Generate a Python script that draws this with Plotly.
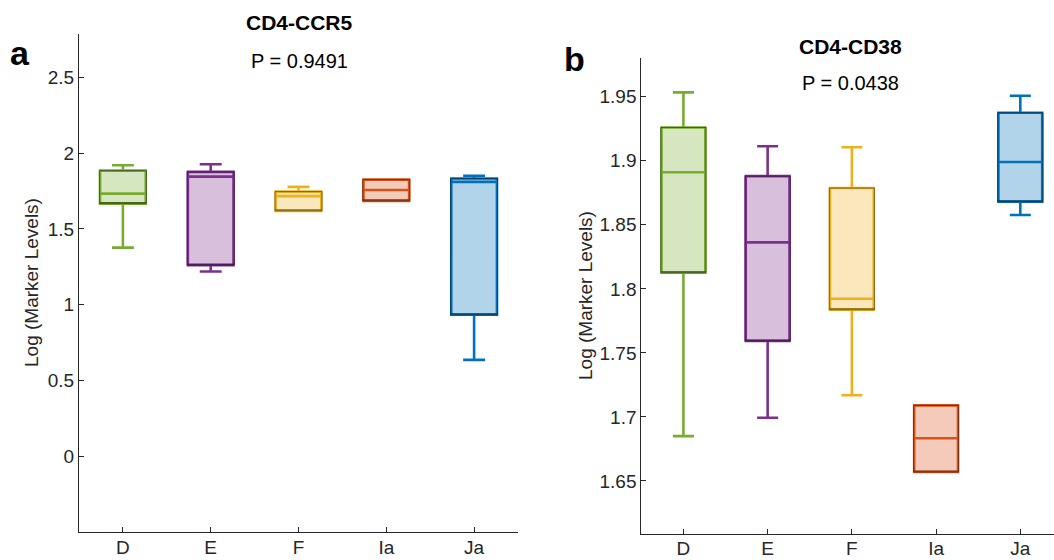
import plotly.graph_objects as go

categories = ["D", "E", "F", "Ia", "Ja"]
colors = ["#77AC30", "#7E2F8E", "#EDB120", "#D95319", "#0072BD"]

# Panel a: CD4-CCR5
a_lower = [1.377, 1.219, 1.619, 1.685, 0.637]
a_q1 = [1.667, 1.261, 1.619, 1.685, 0.934]
a_median = [1.733, 1.845, 1.716, 1.757, 1.810]
a_q3 = [1.884, 1.876, 1.746, 1.825, 1.832]
a_upper = [1.920, 1.926, 1.777, 1.825, 1.851]
a_ticks = [0, 0.5, 1, 1.5, 2, 2.5]
a_ticktext = ["0", "0.5", "1", "1.5", "2", "2.5"]

# Panel b: CD4-CD38
b_lower = [1.685, 1.6994, 1.7169, 1.6570, 1.8577]
b_q1 = [1.8126, 1.7593, 1.7837, 1.6570, 1.868]
b_median = [1.891, 1.8363, 1.7923, 1.6833, 1.899]
b_q3 = [1.926, 1.888, 1.8787, 1.709, 1.9375]
b_upper = [1.9534, 1.9113, 1.9105, 1.709, 1.9508]
b_ticks = [1.65, 1.7, 1.75, 1.8, 1.85, 1.9, 1.95]
b_ticktext = ["1.65", "1.7", "1.75", "1.8", "1.85", "1.9", "1.95"]


def rgba(hexc, a):
    h = hexc.lstrip("#")
    r, g, b = int(h[0:2], 16), int(h[2:4], 16), int(h[4:6], 16)
    return f"rgba({r},{g},{b},{a})"


def dark(hexc, f=0.5):
    h = hexc.lstrip("#")
    r, g, b = int(h[0:2], 16), int(h[2:4], 16), int(h[4:6], 16)
    return f"rgb({int(r*f)},{int(g*f)},{int(b*f)})"


fig = go.Figure()
FONT = "Liberation Sans, Arial, Helvetica, sans-serif"
W, H = 1054, 560

panels = [
    ("x", "y", a_lower, a_q1, a_median, a_q3, a_upper),
    ("x2", "y2", b_lower, b_q1, b_median, b_q3, b_upper),
]
for xa, ya, lo, q1, med, q3, up in panels:
    for i, cat in enumerate(categories):
        pos = i + 1
        fig.add_trace(go.Box(
            x=[pos], q1=[q1[i]], median=[med[i]], q3=[q3[i]],
            lowerfence=[lo[i]], upperfence=[up[i]],
            width=0.52, whiskerwidth=0.48,
            fillcolor=rgba(colors[i], 0.3),
            line=dict(color=colors[i], width=2.6),
            boxpoints=False, showlegend=False, hoverinfo="skip",
            xaxis=xa, yaxis=ya, name=cat,
        ))
        # thin darker edge of the box
        fig.add_trace(go.Box(
            x=[pos], q1=[q1[i]], median=[q1[i]], q3=[q3[i]],
            lowerfence=[q1[i]], upperfence=[q3[i]],
            width=0.535, whiskerwidth=0,
            fillcolor="rgba(0,0,0,0)",
            line=dict(color=dark(colors[i]), width=0.9),
            boxpoints=False, showlegend=False, hoverinfo="skip",
            xaxis=xa, yaxis=ya, name=cat,
        ))

axis_common = dict(
    showline=True, linecolor="#262626", linewidth=1,
    ticks="inside", ticklen=5, tickcolor="#262626", tickwidth=1,
    showgrid=False, zeroline=False, mirror=False,
    tickfont=dict(family=FONT, size=19, color="#262626"),
    automargin=False,
)

fig.update_layout(
    width=W, height=H,
    margin=dict(l=0, r=0, t=0, b=0),
    paper_bgcolor="white", plot_bgcolor="white",
    boxmode="overlay",
    font=dict(family=FONT, color="#262626"),
    xaxis=dict(domain=[79 / W, 518 / W], range=[0.5, 5.5],
               tickvals=[1, 2, 3, 4, 5], ticktext=categories,
               ticklabelstandoff=-2,
               anchor="y", **axis_common),
    yaxis=dict(domain=[1 - 532.3 / H, 1 - 34.3 / H], range=[-0.5, 2.783],
               tickvals=a_ticks, ticktext=a_ticktext,
               anchor="x", **axis_common),
    xaxis2=dict(domain=[641.3 / W, 1.0], range=[0.5, 5.4],
                tickvals=[1, 2, 3, 4, 5], ticktext=categories,
                ticklabelstandoff=-3,
                anchor="y2", **axis_common),
    yaxis2=dict(domain=[1 - 534 / H, 1 - 58.3 / H], range=[1.6086, 1.98],
                tickvals=b_ticks, ticktext=b_ticktext,
                anchor="x2", **axis_common),
)

ann = [
    dict(text="<b>CD4-CCR5</b>", x=299, y=23, size=21, angle=0),
    dict(text="P = 0.9491", x=299, y=61, size=20, angle=0),
    dict(text="<b>CD4-CD38</b>", x=850, y=46, size=21, angle=0),
    dict(text="P = 0.0438", x=850, y=83, size=20, angle=0),
    dict(text="<b>a</b>", x=20, y=53, size=34, angle=0),
    dict(text="<b>b</b>", x=574, y=59, size=34, angle=0),
    dict(text="Log (Marker Levels)", x=31, y=283, size=19, angle=-90),
    dict(text="Log (Marker Levels)", x=585, y=296, size=19, angle=-90),
]
for a in ann:
    fig.add_annotation(
        text=a["text"], x=a["x"] / W, y=1 - a["y"] / H,
        xref="paper", yref="paper", showarrow=False,
        xanchor="center", yanchor="middle", textangle=a["angle"],
        font=dict(family=FONT, size=a["size"],
                  color="black" if a["angle"] == 0 else "#262626"),
    )

fig.write_html("out.html", config={"displayModeBar": False},
               post_script="document.body.style.margin='0';")
